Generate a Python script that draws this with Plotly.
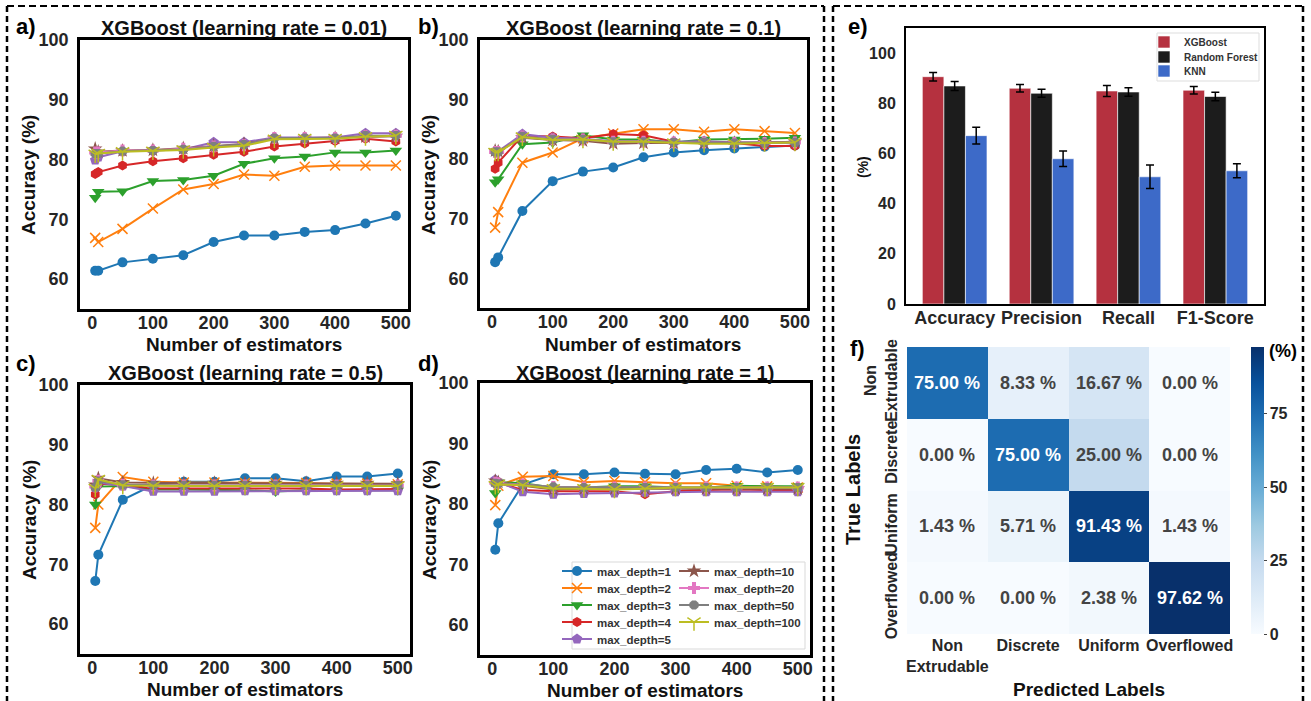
import plotly.graph_objects as go

W, H = 1311, 701

# ---------------- data ----------------
n_estimators = [5, 10, 50, 100, 150, 200, 250, 300, 350, 400, 450, 500]
depth_labels = ["max_depth=1", "max_depth=2", "max_depth=3", "max_depth=4", "max_depth=5",
                "max_depth=10", "max_depth=20", "max_depth=50", "max_depth=100"]

# learning rate = 0.01
a_d1 = [61.4, 61.4, 62.8, 63.4, 64.0, 66.2, 67.3, 67.3, 67.9, 68.2, 69.3, 70.6]
a_d2 = [66.9, 66.2, 68.4, 71.8, 75.0, 75.9, 77.5, 77.3, 78.8, 79.0, 79.0, 79.0]
a_d3 = [73.6, 74.6, 74.7, 76.4, 76.6, 77.3, 79.3, 80.2, 80.5, 81.2, 81.2, 81.5]
a_d4 = [77.6, 77.9, 79.0, 79.7, 80.2, 80.8, 81.3, 82.2, 82.7, 83.1, 83.5, 83.0]
a_d5 = [79.9, 80.4, 81.4, 81.6, 81.7, 82.9, 82.9, 83.7, 83.7, 83.7, 84.4, 84.4]
a_d10 = [81.8, 81.3, 81.5, 81.6, 81.9, 82.3, 82.6, 83.5, 83.6, 83.6, 83.8, 83.9]
a_d20 = [81.2, 81.2, 81.5, 81.5, 81.8, 82.2, 82.4, 83.6, 83.6, 83.6, 83.9, 84.0]
a_d50 = [81.0, 81.0, 81.4, 81.5, 81.7, 82.2, 82.5, 83.6, 83.6, 83.6, 84.0, 84.0]
a_d100 = [80.9, 81.0, 81.3, 81.4, 81.6, 82.0, 82.3, 83.4, 83.5, 83.5, 83.8, 84.0]

# learning rate = 0.1
b_d1 = [62.7, 63.5, 71.3, 76.3, 77.9, 78.6, 80.3, 81.1, 81.5, 81.8, 82.1, 82.3]
b_d2 = [68.5, 71.1, 79.4, 81.1, 83.5, 84.3, 85.0, 85.0, 84.6, 85.0, 84.7, 84.4]
b_d3 = [76.1, 76.6, 82.5, 82.8, 84.0, 83.3, 83.3, 82.8, 83.3, 83.3, 83.4, 83.6]
b_d4 = [78.4, 79.4, 83.9, 83.8, 83.5, 84.2, 84.0, 82.9, 82.8, 82.7, 82.2, 82.2]
b_d5 = [81.3, 81.3, 84.2, 83.6, 83.4, 83.0, 83.0, 82.9, 83.0, 82.8, 82.8, 82.8]
b_d10 = [81.4, 81.3, 83.6, 83.2, 83.1, 82.6, 82.7, 82.7, 82.7, 82.7, 82.8, 82.9]
b_d20 = [81.2, 81.2, 83.8, 83.3, 83.3, 82.9, 82.9, 82.8, 82.8, 82.7, 82.7, 82.8]
b_d50 = [81.2, 81.2, 83.8, 83.3, 83.3, 82.9, 82.9, 82.8, 82.8, 82.7, 82.7, 82.8]
b_d100 = [81.1, 81.1, 83.7, 83.2, 83.3, 82.9, 82.9, 82.7, 82.6, 82.6, 82.7, 82.8]

# learning rate = 0.5
c_d1 = [67.2, 71.6, 80.8, 83.3, 83.8, 83.8, 84.4, 84.4, 83.9, 84.7, 84.7, 85.2]
c_d2 = [76.1, 80.0, 84.6, 83.8, 83.7, 83.7, 83.6, 83.6, 83.6, 83.5, 83.5, 83.4]
c_d3 = [80.0, 83.0, 83.1, 82.5, 82.5, 82.5, 82.4, 82.2, 82.4, 82.4, 82.4, 82.4]
c_d4 = [81.7, 83.5, 83.3, 82.7, 82.7, 82.7, 82.7, 82.7, 82.7, 82.5, 82.5, 82.6]
c_d5 = [82.9, 83.7, 83.1, 82.2, 82.2, 82.2, 82.3, 82.3, 82.3, 82.3, 82.3, 82.3]
c_d10 = [83.3, 84.4, 83.7, 83.6, 83.6, 83.6, 83.6, 83.6, 83.6, 83.6, 83.6, 83.5]
c_d20 = [83.0, 84.0, 83.3, 83.2, 83.2, 83.2, 83.2, 83.2, 83.2, 83.2, 83.2, 83.2]
c_d50 = [82.9, 83.9, 83.3, 83.2, 83.2, 83.2, 83.2, 83.2, 83.2, 83.2, 83.2, 83.2]
c_d100 = [82.7, 84.2, 83.2, 83.1, 83.1, 83.1, 83.1, 83.1, 83.1, 83.1, 83.1, 83.1]

# learning rate = 1
d_d1 = [72.4, 76.8, 83.2, 84.9, 84.9, 85.2, 85.0, 84.9, 85.6, 85.8, 85.2, 85.6]
d_d2 = [79.8, 83.0, 84.5, 84.6, 83.6, 83.8, 83.6, 83.4, 83.4, 83.0, 82.9, 82.7]
d_d3 = [81.8, 83.6, 83.4, 82.7, 82.7, 82.9, 82.9, 82.7, 82.7, 83.0, 82.9, 82.9]
d_d4 = [83.8, 83.5, 82.3, 82.1, 82.1, 82.1, 81.6, 82.1, 82.3, 82.4, 82.3, 82.3]
d_d5 = [84.0, 83.6, 82.0, 81.6, 81.7, 81.8, 81.9, 82.0, 82.0, 82.0, 82.0, 82.0]
d_d10 = [83.8, 83.6, 83.0, 82.4, 82.5, 82.5, 82.5, 82.5, 82.5, 82.5, 82.5, 82.5]
d_d20 = [83.5, 83.4, 83.2, 82.8, 82.7, 82.7, 82.7, 82.7, 82.7, 82.7, 82.7, 82.7]
d_d50 = [83.4, 83.3, 83.2, 82.8, 82.7, 82.7, 82.7, 82.7, 82.7, 82.7, 82.7, 82.7]
d_d100 = [83.0, 83.2, 83.1, 82.5, 82.5, 82.4, 82.5, 82.7, 82.7, 82.7, 82.7, 82.7]

panel_titles = ["XGBoost (learning rate = 0.01)", "XGBoost (learning rate = 0.1)",
                "XGBoost (learning rate = 0.5)", "XGBoost (learning rate = 1)"]

# bar chart (e)
metrics = ["Accuracy", "Precision", "Recall", "F1-Score"]
models = ["XGBoost", "Random Forest", "KNN"]
xgb_vals = [90.6, 86.0, 84.9, 85.2]
xgb_err = [1.7, 1.5, 2.2, 1.5]
rf_vals = [86.9, 84.0, 84.5, 82.7]
rf_err = [1.8, 1.6, 1.7, 1.7]
knn_vals = [67.1, 57.9, 50.7, 53.1]
knn_err = [3.3, 3.1, 4.7, 2.8]

# confusion matrix (f)
cm_labels = ["Non<br>Extrudable", "Discrete", "Uniform", "Overflowed"]
cm_true_labels = ["Non<br>Extrudable", "Discrete", "Uniform", "Overflowed"]
cm_values = [[75.00, 8.33, 16.67, 0.00],
             [0.00, 75.00, 25.00, 0.00],
             [1.43, 5.71, 91.43, 1.43],
             [0.00, 0.00, 2.38, 97.62]]

# ---------------- styles ----------------
FONT = "Liberation Sans"
colors = ["#1f77b4", "#ff7f0e", "#2ca02c", "#d62728", "#9467bd",
          "#8c564b", "#e377c2", "#7f7f7f", "#bcbd22"]
symbols = ["circle", "x-thin-open", "triangle-down", "hexagon", "pentagon",
           "star", "cross", "octagon", "y-down-open"]
sizes = [10, 10, 11, 10, 11, 11, 10, 10, 11]

panels = [
    [a_d1, a_d2, a_d3, a_d4, a_d5, a_d10, a_d20, a_d50, a_d100],
    [b_d1, b_d2, b_d3, b_d4, b_d5, b_d10, b_d20, b_d50, b_d100],
    [c_d1, c_d2, c_d3, c_d4, c_d5, c_d10, c_d20, c_d50, c_d100],
    [d_d1, d_d2, d_d3, d_d4, d_d5, d_d10, d_d20, d_d50, d_d100],
]

def xd(p0, p1):
    return [p0 / W, p1 / W]

def yd(p0, p1):
    return [1 - p1 / H, 1 - p0 / H]

# pixel boxes [x0, x1, y0, y1]
boxes = [(80, 408, 40, 309), (480, 807, 40, 308), (80, 410, 385, 654), (480, 810, 383, 655)]
box_e = (906, 1264, 28, 304)
box_f = (907, 1230, 347, 634)

# legend slots: (left px, centre y px)
line_leg_slots = [(557, 571), (557, 588), (557, 605), (557, 622), (557, 639),
                  (674, 571), (674, 588), (674, 605), (674, 622)]
bar_leg_slots = [(1144, 42), (1144, 57), (1144, 71)]

fig = go.Figure()

for pi, series in enumerate(panels):
    ax = "" if pi == 0 else str(pi + 1)
    for si, vals in enumerate(series):
        open_sym = symbols[si].endswith("open")
        fig.add_trace(go.Scatter(
            x=n_estimators, y=vals, mode="lines+markers",
            name=depth_labels[si],
            line=dict(color=colors[si], width=2),
            marker=dict(symbol=symbols[si], size=sizes[si], color=colors[si],
                        line=dict(color=colors[si], width=1.5 if open_sym else 0)),
            xaxis="x" + ax, yaxis="y" + ax,
            showlegend=(pi == 3),
            legend="legend%d" % (si + 2),
        ))

bar_colors = ["#b5313f", "#1c1c1c", "#3d6ac8"]
bar_legends = ["legend", "legend11", "legend12"]
for name, vals, err, col, lg in zip(models, [xgb_vals, rf_vals, knn_vals],
                                    [xgb_err, rf_err, knn_err], bar_colors, bar_legends):
    fig.add_trace(go.Bar(
        x=metrics, y=vals, name=name, marker=dict(color=col, line=dict(color="white", width=0.6)),
        error_y=dict(type="data", array=err, color="black", thickness=1.5, width=4),
        xaxis="x5", yaxis="y5", legend=lg, showlegend=True,
    ))

fig.add_trace(go.Heatmap(
    z=cm_values, x=cm_labels, y=cm_true_labels,
    colorscale=[[0.0, "rgb(247,251,255)"], [0.125, "rgb(222,235,247)"], [0.25, "rgb(198,219,239)"],
                [0.375, "rgb(158,202,225)"], [0.5, "rgb(107,174,214)"], [0.625, "rgb(66,146,198)"],
                [0.75, "rgb(33,113,181)"], [0.875, "rgb(8,81,156)"], [1.0, "rgb(8,48,107)"]],
    zmin=0, zmax=max(max(r) for r in cm_values),
    texttemplate="%{z:.2f} %", textfont=dict(family=FONT, size=18, weight="bold"),
    xaxis="x6", yaxis="y6", showlegend=False, hoverinfo="skip",
    colorbar=dict(x=1251 / W, xanchor="left", xpad=0, ypad=0, thickness=13,
                  len=(634 - 347) / H, lenmode="fraction",
                  y=1 - (347 + 634) / 2 / H, yanchor="middle", outlinewidth=0,
                  tickvals=[0, 25, 50, 75], ticks="outside", ticklen=3, tickcolor="#444",
                  tickfont=dict(family=FONT, size=16, weight="bold", color="#262626")),
))

layout = dict(
    width=W, height=H, autosize=False, template="none", showlegend=True,
    margin=dict(l=0, r=0, t=0, b=0, pad=0),
    paper_bgcolor="white", plot_bgcolor="white",
    font=dict(family=FONT, color="#262626", weight="bold"),
    bargap=0.256, bargroupgap=0, barmode="group",
)

tickfont = dict(family=FONT, size=18, weight="bold", color="#262626")
for pi, (x0, x1, y0, y1) in enumerate(boxes):
    ax = "" if pi == 0 else str(pi + 1)
    layout["xaxis" + ax] = dict(domain=xd(x0, x1), anchor="y" + ax, range=[-20, 520],
                                tickvals=[0, 100, 200, 300, 400, 500], showgrid=False, zeroline=False,
                                showline=True, mirror=True, linecolor="black", linewidth=2.5,
                                ticks="", tickfont=tickfont, ticklabelstandoff=-4, automargin=False)
    layout["yaxis" + ax] = dict(domain=yd(y0, y1), anchor="x" + ax, range=[55, 100],
                                tickvals=[60, 70, 80, 90, 100], showgrid=False, zeroline=False,
                                showline=True, mirror=True, linecolor="black", linewidth=2.5,
                                ticks="", tickfont=tickfont, ticklabelstandoff=5, automargin=False)

x0, x1, y0, y1 = box_e
layout["xaxis5"] = dict(domain=xd(x0, x1), anchor="y5", range=[-0.56, 3.56], type="category",
                        showgrid=False, zeroline=False, showline=True, mirror=True, linecolor="black",
                        linewidth=2, ticks="", tickfont=dict(family=FONT, size=18, weight="bold", color="#262626"),
                        ticklabelstandoff=-4, automargin=False)
layout["yaxis5"] = dict(domain=yd(y0, y1), anchor="x5", range=[0, 110], tickvals=[0, 20, 40, 60, 80, 100],
                        showgrid=False, zeroline=False, showline=True, mirror=True, linecolor="black",
                        linewidth=2, ticks="", tickfont=dict(family=FONT, size=16, weight="bold", color="#262626"),
                        ticklabelstandoff=5, automargin=False)

x0, x1, y0, y1 = box_f
layout["xaxis6"] = dict(domain=xd(x0, x1), anchor="y6", showgrid=False, zeroline=False, showline=False,
                        ticks="", tickfont=dict(family=FONT, size=16, weight="bold", color="#262626"),
                        automargin=False)
layout["yaxis6"] = dict(domain=yd(y0, y1), anchor="x6", autorange="reversed", showgrid=False,
                        zeroline=False, showline=False, ticks="", tickangle=-90,
                        tickfont=dict(family=FONT, size=16, weight="bold", color="#262626"),
                        ticklabelstandoff=6, automargin=False)

for lg, (lx, cy) in zip(bar_legends, bar_leg_slots):
    layout[lg] = dict(x=lx / W, y=1 - (cy - 14.5) / H, xanchor="left", yanchor="top",
                      bgcolor="rgba(0,0,0,0)", borderwidth=0, visible=True,
                      font=dict(family=FONT, size=10, color="#333333", weight="bold"),
                      tracegroupgap=0, itemwidth=30)
for si, (lx, cy) in enumerate(line_leg_slots):
    layout["legend%d" % (si + 2)] = dict(x=lx / W, y=1 - (cy - 14.5) / H, xanchor="left", yanchor="top",
                                         bgcolor="rgba(0,0,0,0)", borderwidth=0,
                                         font=dict(family=FONT, size=11.5, color="#333333", weight="bold"),
                                         tracegroupgap=0, itemwidth=30)

def ann(text, xp, yp, size, angle=0, xanchor="center", color="#111111"):
    return dict(text=text, x=xp / W, y=1 - yp / H, xref="paper", yref="paper", showarrow=False,
                xanchor=xanchor, yanchor="middle", textangle=angle,
                font=dict(family=FONT, size=size, color=color, weight="bold"))

annotations = []
title_pos = [(244, 28), (643, 28), (245, 373), (645, 373)]
xt_pos = [(244, 344), (643, 344), (245, 689), (645, 690)]
yt_pos = [(28, 175), (428, 175), (29, 520), (429, 520)]
for t, (tx, ty), (xx, xy), (yx, yy) in zip(panel_titles, title_pos, xt_pos, yt_pos):
    annotations.append(ann(t, tx, ty, 20))
    annotations.append(ann("Number of estimators", xx, xy, 19))
    annotations.append(ann("Accuracy (%)", yx, yy, 19, angle=-90))
for letter, lx, ly in [("a)", 26, 27), ("b)", 428, 27), ("c)", 26, 363), ("d)", 428, 363),
                       ("e)", 858, 27), ("f)", 857, 348)]:
    annotations.append(ann(letter, lx, ly, 22, color="black"))
annotations.append(ann("(%)", 863, 167, 14, angle=-90))
annotations.append(ann("True Labels", 853, 490, 20, angle=-90))
annotations.append(ann("Predicted Labels", 1089, 689, 19))
annotations.append(ann("(%)", 1283, 351, 18, color="black"))
layout["annotations"] = annotations

shapes = []
# legend boxes for (d) and (e)
shapes.append(dict(type="rect", xref="paper", yref="paper", x0=572 / W, x1=805 / W,
                   y0=1 - 649 / H, y1=1 - 562 / H, fillcolor="white",
                   line=dict(color="#d9d9d9", width=1), layer="above"))
shapes.append(dict(type="rect", xref="paper", yref="paper", x0=1157 / W, x1=1259 / W,
                   y0=1 - 81 / H, y1=1 - 33 / H, fillcolor="rgba(255,255,255,0.8)",
                   line=dict(color="#dddddd", width=1), layer="above"))
# dashed panel frames
for fx0, fx1 in ((7, 824), (833, 1303)):
    shapes.append(dict(type="line", xref="paper", yref="paper", x0=fx0 / W, x1=fx1 / W,
                       y0=1 - 6 / H, y1=1 - 6 / H, line=dict(color="black", width=2, dash="7px,4px")))
    for fx in (fx0, fx1):
        shapes.append(dict(type="line", xref="paper", yref="paper", x0=fx / W, x1=fx / W,
                           y0=1 - 6 / H, y1=-0.01, line=dict(color="black", width=2.5, dash="6px,4px")))
layout["shapes"] = shapes

fig.update_layout(**layout)
fig.write_html("out.html", config={"displayModeBar": False},
               post_script="document.body.style.margin='0';document.body.style.padding='0';"
                           "document.documentElement.style.overflow='hidden';")
